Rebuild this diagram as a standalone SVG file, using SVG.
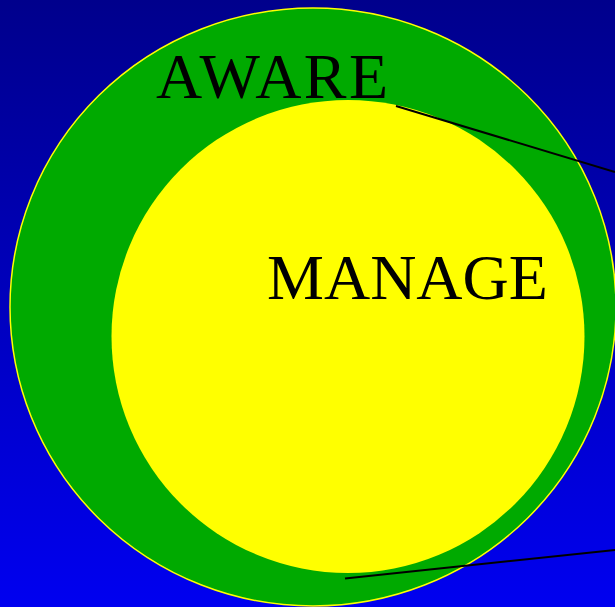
<svg xmlns="http://www.w3.org/2000/svg" width="615" height="607" viewBox="0 0 615 607">
<defs>
<linearGradient id="bg" x1="0" y1="0" x2="0" y2="1">
<stop offset="0" stop-color="#00008C"/>
<stop offset="1" stop-color="#0000F0"/>
</linearGradient>
</defs>
<style>
.lbl{font-family:"Liberation Serif","Times New Roman",serif;font-size:64px;fill:#000}
.conn{stroke:#000;stroke-width:2;fill:none}
</style>
<rect x="0" y="0" width="615" height="607" fill="url(#bg)"/>
<g id="aware">
<ellipse cx="313" cy="307" rx="303" ry="299" fill="#00AA00" stroke="#FFFF00" stroke-width="1.5"/>
<text class="lbl" x="156" y="98" textLength="232" lengthAdjust="spacing">AWARE</text>
</g>
<g id="manage">
<circle cx="348" cy="336.5" r="236.5" fill="#FFFF00"/>
<text class="lbl" x="267" y="299">MANAGE</text>
</g>
<g id="connectors">
<line class="conn" x1="396" y1="106" x2="615" y2="172"/>
<line class="conn" x1="345" y1="578.5" x2="615" y2="550"/>
</g>
</svg>
